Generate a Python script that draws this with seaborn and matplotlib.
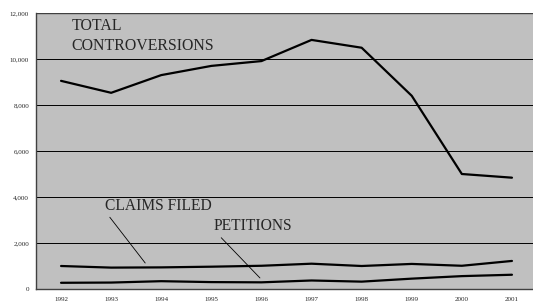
import numpy as np
import pandas as pd
import matplotlib
matplotlib.use('Agg')
import matplotlib.pyplot as plt
import seaborn as sns

# Values
years = [1992, 1993, 1994, 1995, 1996, 1997, 1998, 1999, 2000, 2001]
total_controversions = [9050, 8530, 9300, 9700, 9910, 10830, 10490, 8400, 5000, 4840]
claims_filed = [1000, 930, 940, 970, 1010, 1100, 1000, 1090, 1010, 1220]
petitions = [270, 280, 340, 300, 290, 370, 320, 450, 560, 620]
y_ticks = [0, 2000, 4000, 6000, 8000, 10000, 12000]

df = pd.DataFrame({
    'year': years * 3,
    'value': total_controversions + claims_filed + petitions,
    'series': ['TOTAL CONTROVERSIONS'] * 10 + ['CLAIMS FILED'] * 10 + ['PETITIONS'] * 10,
})

sns.set_theme(style="white")
plt.rcParams['font.family'] = ['Liberation Serif', 'DejaVu Serif']

fig = plt.figure(figsize=(5.33, 3.04), dpi=100)
ax = fig.add_axes([36 / 533, 1 - 289 / 304, 501 / 533, 276 / 304])
ax.set_facecolor('#c0c0c0')

sns.lineplot(data=df, x='year', y='value', units='series', estimator=None,
             color='black', linewidth=1.6, ax=ax, legend=False)

ax.set_xlim(1991.5, 2001.5)
ax.set_ylim(0, 12000)
ax.set_yticks(y_ticks)
ax.set_yticklabels([f'{v:,}' for v in y_ticks], fontsize=5)
ax.set_xticks(years)
ax.set_xticklabels([str(y) for y in years], fontsize=5)
ax.set_xticks([y + 0.5 for y in years[:-1]], minor=True)
ax.tick_params(axis='x', which='major', length=0, pad=6)
ax.tick_params(axis='x', which='minor', length=3, direction='out', color='#404040', width=0.8)
ax.tick_params(axis='y', length=3, direction='out', color='#404040', width=0.8, pad=2)
ax.set_xlabel('')
ax.set_ylabel('')

for v in y_ticks[1:-1]:
    ax.axhline(v, color='black', linewidth=0.7, zorder=1)
ax.axhline(12000, color='#404040', linewidth=1.0, zorder=1)

for side in ['left', 'bottom']:
    ax.spines[side].set_color('#404040')
    ax.spines[side].set_linewidth(1.0)
ax.spines['top'].set_visible(False)
ax.spines['right'].set_visible(False)

ax.text(1992.21, 11780, 'TOTAL\nCONTROVERSIONS', fontsize=11.4, va='top', ha='left',
        linespacing=1.3)
ax.annotate('CLAIMS FILED', xy=(1993.68, 1130), xytext=(1992.88, 3610),
            fontsize=11.2, va='center', ha='left',
            arrowprops=dict(arrowstyle='-', color='black', linewidth=0.6,
                            shrinkA=0, shrinkB=0, relpos=(0.02, 0)))
ax.annotate('PETITIONS', xy=(1995.97, 480), xytext=(1995.04, 2720),
            fontsize=11.2, va='center', ha='left',
            arrowprops=dict(arrowstyle='-', color='black', linewidth=0.6,
                            shrinkA=0, shrinkB=0, relpos=(0.06, 0)))

fig.savefig('out.png', dpi=100)
